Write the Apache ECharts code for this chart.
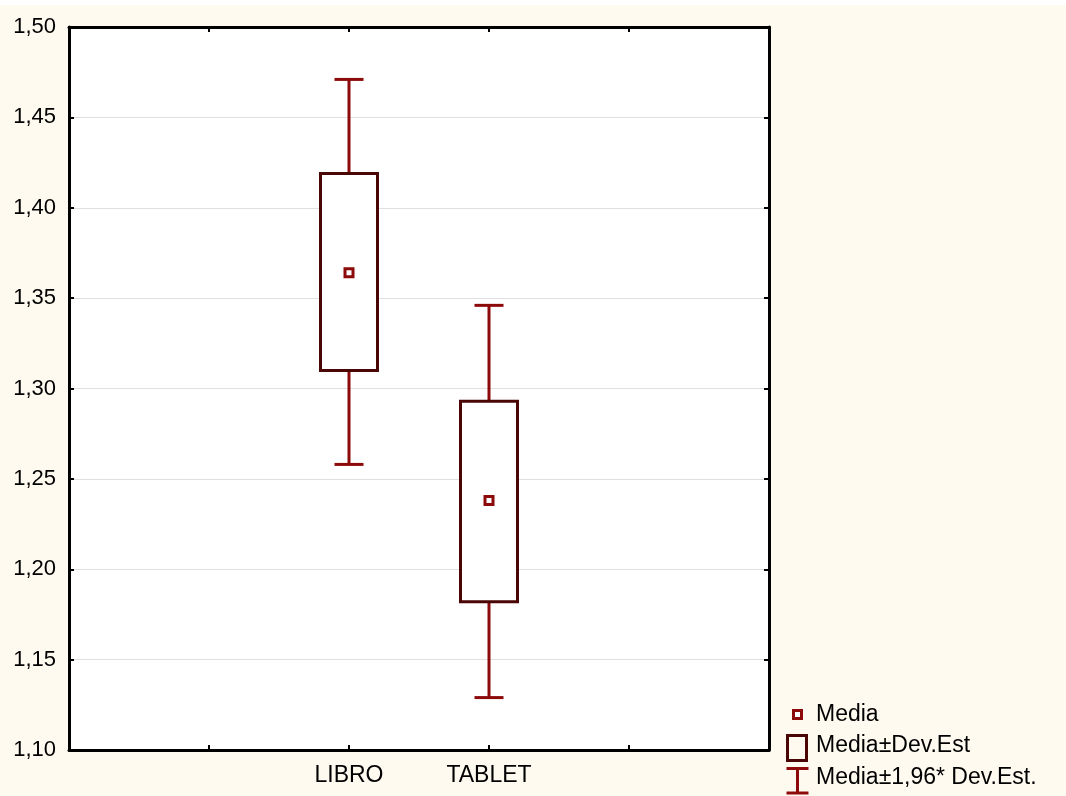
<!DOCTYPE html>
<html>
<head>
<meta charset="utf-8">
<script src="https://cdn.jsdelivr.net/npm/echarts@6/dist/echarts.min.js"></script>
<style>
html,body{margin:0;padding:0;background:#ffffff;}
#bg{position:absolute;left:0;top:5px;width:1066px;height:791px;background:#fffaef;}
#chart{position:absolute;left:0;top:0;width:1066px;height:796px;}
</style>
</head>
<body>
<div id="bg"></div>
<div id="chart"></div>
<script>
// Data
const categories = ['', '', 'LIBRO', 'TABLET', '', ''];
const groups = ['LIBRO', 'TABLET'];
const means = [1.364, 1.238];
const sdLow = [1.310, 1.182];
const sdHigh = [1.419, 1.293];
const ciLow = [1.258, 1.129];
const ciHigh = [1.471, 1.346];
const yTicks = ['1,10', '1,15', '1,20', '1,25', '1,30', '1,35', '1,40', '1,45', '1,50'];
const legendNames = ['Media', 'Media±Dev.Est', 'Media±1,96* Dev.Est.'];

const WHISKER = '#8c0a0a';
const BOXC = '#4a0505';
const FONT = 'Liberation Sans, Arial, sans-serif';

const chart = echarts.init(document.getElementById('chart'), null, {renderer: 'canvas'});

const ciData = groups.map((g, i) => [g, ciLow[i], ciHigh[i]]);
const sdData = groups.map((g, i) => [g, sdLow[i], sdHigh[i]]);
const meanData = groups.map((g, i) => [g, means[i]]);

function fmtY(v) {
  const idx = Math.round((v - 1.10) / 0.05);
  return yTicks[idx] !== undefined ? yTicks[idx] : '';
}

const axisLine = {show: true, lineStyle: {color: '#000', width: 3}};
const axisTick = {show: true, inside: true, length: 5, lineStyle: {color: '#000', width: 2}};

const option = {
  backgroundColor: 'transparent',
  animation: false,
  grid: {left: 69, right: 297, top: 27, bottom: 46, show: true, backgroundColor: '#ffffff', borderWidth: 0},
  xAxis: [
    {
      type: 'category', data: categories, boundaryGap: false, position: 'bottom',
      axisLine: axisLine, axisTick: axisTick,
      axisLabel: {show: true, color: '#000', fontSize: 23, fontFamily: FONT, margin: 14, interval: 0},
      splitLine: {show: false}
    },
    {
      type: 'category', data: categories, boundaryGap: false, position: 'top',
      axisLine: axisLine, axisTick: axisTick,
      axisLabel: {show: false},
      splitLine: {show: false}
    }
  ],
  yAxis: [
    {
      type: 'value', min: 1.10, max: 1.50, interval: 0.05, position: 'left',
      axisLine: axisLine, axisTick: axisTick,
      axisLabel: {show: true, color: '#000', fontSize: 22, fontFamily: FONT, margin: 13, formatter: fmtY},
      splitLine: {show: true, lineStyle: {color: '#e0e0e0', width: 1}}
    },
    {
      type: 'value', min: 1.10, max: 1.50, interval: 0.05, position: 'right',
      axisLine: axisLine, axisTick: axisTick,
      axisLabel: {show: false},
      splitLine: {show: false}
    }
  ],
  series: [
    {
      name: legendNames[2], type: 'custom', xAxisIndex: 0, yAxisIndex: 0, z: 3,
      encode: {x: 0, y: [1, 2]},
      data: ciData,
      renderItem: function (params, api) {
        const lo = api.coord([api.value(0), api.value(1)]);
        const hi = api.coord([api.value(0), api.value(2)]);
        const hw = 14.5;
        const st = {stroke: WHISKER, lineWidth: 3, fill: null};
        return {
          type: 'group', children: [
            {type: 'line', shape: {x1: lo[0], y1: lo[1], x2: hi[0], y2: hi[1]}, style: st},
            {type: 'line', shape: {x1: lo[0] - hw, y1: lo[1], x2: lo[0] + hw, y2: lo[1]}, style: st},
            {type: 'line', shape: {x1: hi[0] - hw, y1: hi[1], x2: hi[0] + hw, y2: hi[1]}, style: st}
          ]
        };
      }
    },
    {
      name: legendNames[1], type: 'custom', xAxisIndex: 0, yAxisIndex: 0, z: 4,
      encode: {x: 0, y: [1, 2]},
      data: sdData,
      renderItem: function (params, api) {
        const lo = api.coord([api.value(0), api.value(1)]);
        const hi = api.coord([api.value(0), api.value(2)]);
        const hw = 28.5;
        return {
          type: 'rect',
          shape: {x: lo[0] - hw, y: hi[1], width: hw * 2, height: lo[1] - hi[1]},
          style: {fill: '#ffffff', stroke: BOXC, lineWidth: 3}
        };
      }
    },
    {
      name: legendNames[0], type: 'scatter', xAxisIndex: 0, yAxisIndex: 0, z: 5,
      symbol: 'rect', symbolSize: 8,
      itemStyle: {color: '#ffffff', borderColor: WHISKER, borderWidth: 3, opacity: 1},
      data: meanData
    }
  ],
  graphic: [
    // Legend: Media
    {type: 'rect', left: 792, top: 709, shape: {width: 8, height: 8}, style: {fill: '#fff', stroke: WHISKER, lineWidth: 3}},
    {type: 'text', left: 816, top: 703, style: {text: legendNames[0], fill: '#000', font: '23px ' + FONT}},
    // Legend: box
    {type: 'rect', left: 786, top: 734, shape: {width: 19, height: 25}, style: {fill: 'transparent', stroke: BOXC, lineWidth: 3}},
    {type: 'text', left: 816, top: 734, style: {text: legendNames[1], fill: '#000', font: '23px ' + FONT}},
    // Legend: whisker
    {type: 'group', left: 784, top: 766, children: [
      {type: 'line', shape: {x1: 0, y1: 1.5, x2: 22, y2: 1.5}, style: {stroke: WHISKER, lineWidth: 3}},
      {type: 'line', shape: {x1: 11, y1: 1.5, x2: 11, y2: 26}, style: {stroke: WHISKER, lineWidth: 3}},
      {type: 'line', shape: {x1: 0, y1: 26, x2: 22, y2: 26}, style: {stroke: WHISKER, lineWidth: 3}}
    ]},
    {type: 'text', left: 816, top: 766, style: {text: legendNames[2], fill: '#000', font: '23px ' + FONT}}
  ]
};

chart.setOption(option);
</script>
</body>
</html>
